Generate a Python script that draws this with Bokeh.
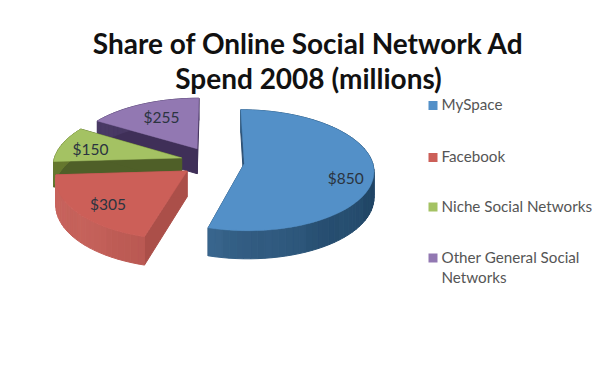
import math
from bokeh.core.properties import value
from bokeh.embed import file_html
from bokeh.plotting import figure
from bokeh.resources import INLINE

names = ["MySpace", "Facebook", "Niche Social Networks", "Other General Social Networks"]
spend = [850, 305, 150, 255]
value_labels = ["$850", "$305", "$150", "$255"]
title_lines = ["Share of Online Social Network Ad", "Spend 2008 (millions)"]
legend_lines = [["MySpace"], ["Facebook"], ["Niche Social Networks"], ["Other General Social", "Networks"]]

top_colors = ["#5390c8", "#cc5f58", "#a4c263", "#9278b2"]
radial_colors = ["#2c4f72", "#ab4f49", "#4f5f28", "#3f2f58"]
wall_left = ["#44749f", "#c8645d", "#66782f", "#4a3a66"]
wall_right = ["#1f4464", "#a0453f", "#4f5f28", "#3f2f58"]

# Projection of the tilted pie onto the page
CX, CY = 212.0, 161.0
RX, RY = 128.0, 60.0
PERSPECTIVE = 0.11
EXPLODE = 0.25
DEPTH = 25.5
DEPTH_FALLOFF = 0.1
LABEL_RADIUS = [0.8, 0.8, 0.75, 0.6]
LABEL_NUDGE = [(-2, 8), (8, 0), (-1, 1), (-2, -4)]
LEGEND_ROWS = [105, 157, 206.5, 257.5]


def project(u, v, drop=0.0):
    w = 1 - PERSPECTIVE * v
    return CX + RX * u * w, CY - RY * v * w + drop * (1 - DEPTH_FALLOFF * v)


def mix(a, b, t):
    ca = [int(a[i:i + 2], 16) for i in (1, 3, 5)]
    cb = [int(b[i:i + 2], 16) for i in (1, 3, 5)]
    return "#%02x%02x%02x" % tuple(round(x + (y - x) * t) for x, y in zip(ca, cb))


p = figure(width=602, height=367, x_range=(0, 602), y_range=(367, 0),
           toolbar_location=None, output_backend="svg", min_border=0,
           background_fill_color="white", border_fill_color="white",
           outline_line_color=None)
p.axis.visible = False
p.grid.visible = False

total = sum(spend)
spans = []
start = 0.0
for amount in spend:
    sweep = 2 * math.pi * amount / total
    spans.append((start, start + sweep))
    start += sweep


def slice_geometry(i):
    a0, a1 = spans[i]
    mid = (a0 + a1) / 2
    ou, ov = EXPLODE * math.sin(mid), EXPLODE * math.cos(mid)
    n = max(8, int((a1 - a0) / 0.05))
    arc = [a0 + (a1 - a0) * k / n for k in range(n + 1)]
    return mid, ou, ov, arc


# Back slices are painted first so the nearer ones overlap them
for i in [3, 2, 1, 0]:
    mid, ou, ov, arc = slice_geometry(i)
    xs_all, ys_all, fills = [], [], []

    for edge in (arc[0], arc[-1]):
        eu, ev = ou + math.sin(edge), ov + math.cos(edge)
        corners = [project(ou, ov), project(eu, ev), project(eu, ev, DEPTH), project(ou, ov, DEPTH)]
        xs_all.append([c[0] for c in corners])
        ys_all.append([c[1] for c in corners])
        fills.append(radial_colors[i])

    for j in range(len(arc) - 1):
        t0, t1 = arc[j], arc[j + 1]
        u0, v0 = ou + math.sin(t0), ov + math.cos(t0)
        u1, v1 = ou + math.sin(t1), ov + math.cos(t1)
        corners = [project(u0, v0), project(u1, v1), project(u1, v1, DEPTH), project(u0, v0, DEPTH)]
        xs_all.append([c[0] for c in corners])
        ys_all.append([c[1] for c in corners])
        # Light falls from the lower left, with soft bands round the rim
        facing = (math.sin((t0 + t1) / 2) + 1) / 2
        band = 0.06 * (int(j / 6) % 2)
        fills.append(mix(wall_right[i], wall_left[i], min(1, max(0, 1 - facing + band))))

    p.patches(xs_all, ys_all, fill_color=fills, line_color=fills, line_width=1)

    outline = [project(ou, ov)] + [project(ou + math.sin(a), ov + math.cos(a)) for a in arc]
    p.patch([c[0] for c in outline], [c[1] for c in outline],
            fill_color=top_colors[i], line_color=top_colors[i], line_width=0.5)

# Value labels sit on the top face, along each slice's middle angle
for i in range(4):
    mid, ou, ov, arc = slice_geometry(i)
    lx, ly = project(ou + LABEL_RADIUS[i] * math.sin(mid), ov + LABEL_RADIUS[i] * math.cos(mid))
    p.text([lx + LABEL_NUDGE[i][0]], [ly + LABEL_NUDGE[i][1]], text=[value_labels[i]],
           text_font=value("Lato"), text_font_size="15.5px",
           text_color="#2b3440", text_align="center", text_baseline="middle")

for k, line in enumerate(title_lines):
    p.text([308], [42 + 35.5 * k], text=[line], text_font=value("Lato"), text_font_size="28px",
           text_font_style="bold", text_color="#111111", text_align="center", text_baseline="middle")

for i, row in enumerate(LEGEND_ROWS):
    p.rect([432.5], [row], width=9, height=9, fill_color=top_colors[i], line_color=None)
    for k, line in enumerate(legend_lines[i]):
        p.text([441], [row - 1.5 + 20 * k], text=[line], text_font=value("Lato"), text_font_size="15.2px",
               text_color="#555555", text_align="left", text_baseline="middle")

open("out.html", "w").write(file_html(p, INLINE))
